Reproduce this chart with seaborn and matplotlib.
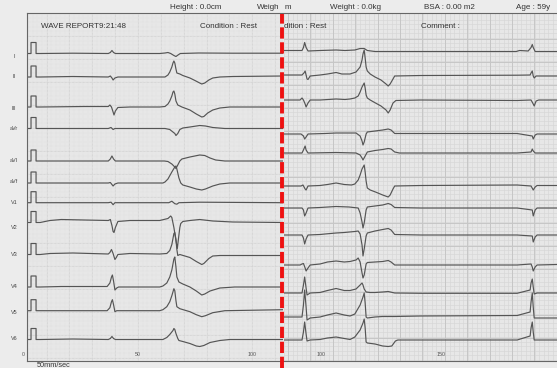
import numpy as np
import pandas as pd
import matplotlib
matplotlib.use("Agg")
import matplotlib.pyplot as plt
import seaborn as sns

sns.set_style("white")
plt.rcParams['font.family'] = ['Liberation Sans', 'DejaVu Sans']

# ---------------- data ----------------
lead_names = ["I", "II", "III", "aVr", "aVl", "aVf", "V1", "V2", "V3", "V4", "V5", "V6"]
# baseline row of each lead (vertical paper position, top = 13, bottom = 361)
left_baselines = [53.5, 77, 107, 128.5, 161, 183, 202.7, 222.5, 254.5, 287, 310.7, 339.5]
right_baselines = [51.5, 76, 100, 134, 153, 186, 208, 235, 265, 293, 317, 340]
label_rows = [56.7, 76.7, 109, 129, 161, 181.7, 202.7, 227.7, 254.7, 286.7, 312.7, 339]

# calibration pulse (left strip)
cal_t = [1.4, 3.2, 3.2, 5.4, 5.4, 7.2]
cal_amp = [0, 0, 11, 11, 0, 0]

# left strip traces: (time, amplitude)
I_left = [(7.2,0),(21.5,0.3),(37,0),(37.9,1),(38.6,3),(39.3,1),(40.1,0),(59.5,0),(61.8,0.5),(63.1,1),(64.3,0),(65.7,-2),(66.6,-3),(67.5,-1.5),(68.5,0),(76.5,0.5),(91.5,0.3),(113.5,0.3)]
II_left = [(7.2,0),(21.5,0.5),(37,0),(37.9,1),(38.6,-1),(39.1,-3),(39.9,-1),(41.2,0),(56.5,0),(61.8,0),(63.1,2),(63.9,5),(64.8,10),(65.3,14),(65.7,16),(66.1,14),(66.6,8),(67,4),(68.3,3),(69.6,1.5),(72.7,-1),(74.9,-3.5),(77,-6),(77.9,-7),(79.2,-6),(81,-3),(82.7,-1),(85.8,0),(91.5,0.5),(113.5,1)]
III_left = [(7.2,0),(26.5,0.5),(37,0.5),(37.7,2),(38.4,0),(39.1,-5),(39.5,-8),(40.1,-4),(41.2,-0.5),(46.5,0),(59.5,0),(61.8,0.5),(63.1,3),(63.9,6),(64.8,11),(65.3,15),(65.7,16),(66.1,13),(66.6,6),(67.4,2),(69.2,0),(72.7,-3),(75.5,-7),(77.9,-10),(78.8,-9.5),(80.5,-6),(82.7,-3),(85.8,-1),(90.1,0),(113.5,0)]
aVr_left = [(7.2,0),(37,0),(38.2,1),(39.1,-1),(39.9,0),(61.8,0),(63.9,-1),(66.1,-5),(66.6,-7),(67.4,-5),(68.3,-1),(69.6,0.5),(72.7,1.5),(77,3),(79.5,2.5),(82.7,1),(88,0),(113.5,0)]
aVl_left = [(7.2,0),(37,0),(37.9,2),(38.6,5),(39.3,2),(40.1,0),(61.5,0),(63.1,-0.5),(64.8,-3),(66.1,-6),(66.6,-7.5),(67.4,-4),(68.3,0),(69.2,2),(72.7,4),(77,6),(79.2,5.5),(81.5,3),(84,1),(88,0),(113.5,0)]
aVf_left = [(7.2,0),(37,0),(37.9,0.5),(39.1,-3),(39.9,-1),(41.2,0),(60.9,0),(61.8,1),(63.1,4),(64.8,11),(66.1,16),(66.6,17),(67,14),(67.9,5),(68.7,0),(69.6,-2),(72.7,-4),(75.5,-6),(77.9,-7),(79.5,-6),(82.7,-3),(85.8,-1),(90.1,0),(113.5,0)]
V1_left = [(7.2,0),(37,0),(38.2,0.5),(39.1,-2),(39.9,0),(63.5,0),(64.8,1.5),(66.1,-1),(67,-1.5),(67.9,0),(77,0.5),(113.5,0)]
V2_left = [(7.2,0),(11.5,2),(16.5,3),(26.5,2.5),(37,2),(37.9,3),(38.6,-3),(39.1,-9),(39.5,-10),(40.1,-5),(41.2,1),(46.5,2),(59.5,2),(63.1,4),(64.3,6.5),(64.8,5),(65.7,-5),(66.6,-18),(67.2,-26),(67.6,-18),(68.3,-5),(68.7,-1),(69.6,1),(72.7,2),(77,3),(82.7,1.5),(91.5,0.5),(113.5,0)]
V3_left = [(7.2,0),(11.5,1),(21.5,1.5),(37,0.5),(37.7,2),(38.4,5),(39.1,1),(39.9,-5),(40.5,-3),(41.2,0),(46.5,1),(59.5,0.5),(62.6,1),(63.9,4),(64.8,10),(65.3,16),(65.7,21),(66.1,22),(66.6,15),(67,5),(67.4,-1),(68.3,0),(72.7,-3),(75.5,-7),(77.9,-10),(78.8,-9),(81,-4),(82.7,-1.5),(85.8,-1),(113.5,-1)]
V4_left = [(7.2,0),(16.5,0.5),(36.5,0.5),(37.7,4),(38.4,10),(38.8,12),(39.3,6),(39.9,-3),(40.7,-1),(41.5,0),(59.5,0),(60.9,1),(62.6,4),(63.9,10),(64.8,17),(65.7,28),(66.1,30),(66.6,20),(67,10),(67.9,5),(69.6,3),(72.7,0),(75.5,-4),(77.9,-8),(79.2,-7),(81.5,-4),(85.8,-1),(92.3,0),(113.5,0)]
V5_left = [(7.2,0),(36.5,0),(37.7,3),(38.4,9),(38.8,11),(39.3,6),(39.9,-1),(40.7,0),(59.5,0),(60.9,1),(62.6,4),(63.9,9),(64.8,15),(65.7,22),(66.1,20),(66.6,10),(67,4),(68.3,2),(72.7,-1),(75.5,-4),(77.9,-6),(79.5,-5),(82.7,-2),(88,0),(113.5,1)]
V6_left = [(7.2,0),(21.5,0.5),(37,0),(37.9,1),(38.6,3),(39.3,1),(40.1,0),(60.9,0),(62.6,2),(63.9,5),(65.3,9),(65.7,11),(66.1,10),(66.6,6),(67.4,1),(67.9,-1),(69.6,-2),(72.7,-4),(75.5,-6.5),(77,-7),(78.8,-6),(81.5,-3),(85.8,-1),(90.1,0),(113.5,0)]

# right strip traces: (time, amplitude)
I_right = [(84.6,1),(92.1,1),(92.7,4),(93.2,9),(93.8,4),(94.6,0.5),(99.6,1),(106.3,1.5),(110,1),(114.1,1.5),(116.3,3),(118,3),(119.3,1),(122.5,0),(141.7,0),(181.3,0),(182.7,1),(186.3,0.5),(187.5,4),(188,7),(188.4,4),(189.2,0),(198.3,0)]
II_right = [(84.6,1),(92.1,1),(92.9,3),(93.4,5),(93.8,1),(94.2,-3),(94.6,-3.5),(95.5,0),(99.6,1),(102.7,2),(106.3,3.5),(108.7,2),(112.1,2),(114.6,4),(116.3,9),(117.1,16),(117.5,22),(118,26),(118.4,18),(118.8,9),(119.3,5),(120.5,2),(122.5,-1),(125,-4),(127.1,-8),(128,-10),(128.8,-8),(130,-3),(130.7,0),(141.7,0.5),(181.7,0.8),(187.1,1),(187.5,3),(188,5),(188.4,0),(188.8,-2),(189.6,0),(198.3,0)]
III_right = [(84.6,0),(91.3,0),(92.1,2),(92.7,0),(93.4,-4),(93.8,-7),(94.6,-3),(95.5,0),(99.6,0),(106.3,1),(110,0.5),(112.1,1),(114.1,2),(115.5,4),(116.3,8),(117.1,13),(118,17),(118.4,12),(118.8,5),(119.3,2),(120.5,0),(122.7,-3),(125,-6),(127.1,-10),(128,-13),(128.8,-10),(130,-3),(131.2,-0.5),(141.7,0),(181.7,-0.5),(187.5,0),(188.4,-4),(188.8,-6),(189.6,-1),(190.7,0),(198.3,0)]
aVr_right = [(84.6,0),(91.7,0),(92.7,-2),(93.2,-5),(93.8,-3),(94.6,0),(101.7,0.5),(106.3,1),(114.6,1),(116.3,-2),(117.1,-7),(117.5,-11),(118,-8),(118.8,0),(119.3,2),(122.5,3),(125.7,4),(128,5),(129.2,4),(130.7,0.5),(141.7,0.5),(181.7,0.5),(188,-2),(188.4,-5),(189.2,-1),(190,0),(198.3,0)]
aVl_right = [(84.6,0),(92.1,0),(92.7,3),(93.4,7),(93.8,3),(94.6,0),(106.3,0.5),(114.6,0),(116.3,-2),(117.1,-5),(117.5,-7),(118.4,-3),(119.3,1),(122.5,2.5),(125.7,3.5),(128,4.5),(129.2,4),(130.7,1),(132.7,0),(181.7,0),(187.5,1),(188,4),(188.4,2),(189.2,0),(198.3,0)]
aVf_right = [(84.6,0),(91.7,0),(92.5,1),(93.4,-3),(93.8,-4),(94.6,0),(99.6,0.5),(102.7,1.5),(106.3,3),(109.7,1.5),(112.7,1),(114.1,2),(115.5,6),(116.3,11),(117.1,17),(118,21),(118.4,14),(118.8,5),(119.3,-2),(120.5,-4),(122.7,-6),(125.7,-9),(128,-11),(128.8,-9),(130,-3),(130.7,0),(141.7,0.5),(181.7,1),(187.5,0),(188.4,-4),(189.2,-1),(190,0.5),(198.3,0.5)]
V1_right = [(84.6,0),(92.1,0),(92.7,-2),(93.2,-8),(93.8,-5),(94.6,0),(99.6,0.5),(106.3,1.5),(111.7,1),(115.5,0),(116.3,-5),(117.1,-14),(117.5,-20),(118,-15),(118.8,-2),(119.3,1),(122.5,2),(125.7,3),(128,4.5),(129.2,3.5),(130.7,0.5),(141.7,0),(181.7,0),(188,-2),(188.4,-8),(189.2,-2),(190,0),(198.3,0)]
V2_right = [(84.6,0),(92.1,0),(92.7,-3),(93.2,-9),(93.8,-4),(94.6,0),(99.6,0.5),(101.7,1),(106.3,2),(109.7,2.5),(114.1,3.5),(115.5,4),(116.3,1),(117.1,-10),(117.5,-21),(118,-14),(118.8,-1),(119.3,2),(122.5,4),(125.7,5.5),(128,6.5),(129.2,5),(130.7,0.5),(141.7,0),(181.7,0),(188,-1),(188.4,-7),(189.2,-2),(190,0),(198.3,0)]
V3_right = [(84.6,0),(91.3,0),(92.1,1),(92.7,1.5),(93.4,-3),(93.8,-6),(94.6,-3),(95.5,0),(99.6,1),(102.7,3),(106.3,4),(109.7,3),(112.1,3.5),(114.6,5),(115.5,7),(116.3,3),(117.1,-8),(117.5,-13),(118,-10),(118.8,1),(119.3,2.5),(122.5,3),(125.7,3.5),(128,4.5),(129.2,3),(130.7,0),(141.7,0),(181.7,0),(187.5,1),(188,-2),(188.4,-6),(189.2,-2),(190,0),(198.3,0.5)]
V4_right = [(84.6,0),(92.1,0),(92.7,8),(93.2,16),(93.8,5),(94.2,-2),(95.5,0),(99.6,0.5),(102.7,2.5),(106.3,4.5),(109.7,2.5),(112.1,2.5),(114.6,4),(116.3,8),(117.1,10),(117.5,8),(118,4),(118.8,1),(120.5,0.5),(122.5,0.5),(125.7,1),(128,1.5),(130.7,0),(141.7,-0.3),(181.7,-0.3),(187.1,3),(187.5,10),(188,14),(188.4,6),(188.8,-1),(190,0),(198.3,0)]
V5_right = [(84.6,0),(92.1,0),(92.7,12),(93.2,27),(93.8,10),(94.2,-3),(95.5,-1),(99.6,0),(102.7,2),(106.3,4),(109.7,2),(112.1,1),(114.1,3),(116.3,12),(117.5,20),(118,24),(118.4,14),(118.8,0),(119.3,-1),(122.5,0),(125.7,0.5),(130.7,0.5),(141.7,1),(181.7,1.5),(187.1,5),(187.5,15),(188,24),(188.4,10),(188.8,-1),(190,-1),(198.3,-1)]
V6_right = [(84.6,0),(92.1,0),(92.7,8),(93.2,18),(93.8,6),(94.2,-1),(95.5,0),(99.6,0.5),(102.7,2),(106.3,3),(109.7,1.5),(112.1,0.5),(114.1,3),(116.3,10),(117.5,17),(118,21),(118.4,12),(118.8,-2),(119.3,-3),(122.5,-4),(125.7,-6),(128,-6.5),(129.5,-6),(131,-1),(132,0),(141.7,0),(181.7,0),(187.1,4),(187.5,12),(188,18),(188.4,8),(188.8,0),(198.3,0)]

left_traces = [I_left, II_left, III_left, aVr_left, aVl_left, aVf_left,
               V1_left, V2_left, V3_left, V4_left, V5_left, V6_left]
right_traces = [I_right, II_right, III_right, aVr_right, aVl_right, aVf_right,
                V1_right, V2_right, V3_right, V4_right, V5_right, V6_right]

left_tick_values = [0, 50, 100]
right_tick_values = [100, 150]

# ---------------- build tables ----------------
def build(traces, baselines, with_cal):
    recs = []
    for name, base, pts in zip(lead_names, baselines, traces):
        seq = (list(zip(cal_t, cal_amp)) if with_cal else []) + pts
        for i, (t, a) in enumerate(seq):
            recs.append({"lead": name, "order": i, "t": t, "y": base - a})
    return pd.DataFrame(recs)

df_left = build(left_traces, left_baselines, True)
df_right = build(right_traces, right_baselines, False)

# ---------------- figure ----------------
W, H = 557, 368
fig = plt.figure(figsize=(W / 100, H / 100), dpi=100, facecolor='#ececec')

axL = fig.add_axes([27 / W, 7 / H, 256 / W, 348 / H])
axR = fig.add_axes([284 / W, 7 / H, 273 / W, 348 / H])

paper = '#e7e7e7'
for ax in (axL, axR):
    ax.set_facecolor(paper)
    ax.set_ylim(361, 13)
    ax.set_yticks([])

axL.set_xlim(1.44, 113.43)
axR.set_xlim(84.6, 198.3)

# paper grid
for y in np.arange(17.6, 361, 4.6):
    axL.axhline(y, color='#dadada', lw=0.35, ls=(0, (1, 1.5)), zorder=0.3)
for y in np.arange(36, 361, 23):
    axL.axhline(y, color='#cccccc', lw=0.5, ls=(0, (1, 1)), zorder=0.4)
for x in np.arange(2, 114, 2):
    axL.axvline(x, color='#dadada', lw=0.35, ls=(0, (1, 1.5)), zorder=0.3)
for x in np.arange(10, 114, 10):
    axL.axvline(x, color='#cccccc', lw=0.5, ls=(0, (1, 1)), zorder=0.4)

for y in np.arange(19.6, 361, 4.6):
    axR.axhline(y, color='#d6d6d6', lw=0.45, zorder=0.3)
for y in np.arange(38.5, 361, 23):
    axR.axhline(y, color='#c6c6c6', lw=0.7, zorder=0.4)
for x in np.arange(84.6, 199, 1.866):
    axR.axvline(x, color='#d6d6d6', lw=0.45, zorder=0.3)
for x in np.arange(86.25, 199, 9.33):
    axR.axvline(x, color='#c6c6c6', lw=0.7, zorder=0.4)

# traces
trace_col = '#555555'
sns.lineplot(data=df_left, x='t', y='y', units='lead', estimator=None, sort=False,
             color=trace_col, lw=0.85, ax=axL, legend=False)
sns.lineplot(data=df_right, x='t', y='y', units='lead', estimator=None, sort=False,
             color=trace_col, lw=0.85, ax=axR, legend=False)

for ax in (axL, axR):
    ax.set_xlabel("")
    ax.set_ylabel("")
    ax.set_ylim(361, 13)

# axes / ticks
axL.set_xticks(np.arange(10, 114, 10))
axL.set_xticks(np.arange(2, 114, 2), minor=True)
axR.set_xticks(np.arange(90, 199, 10))
axR.set_xticks(np.arange(86, 199, 2), minor=True)
for ax in (axL, axR):
    ax.tick_params(axis='x', which='both', direction='in', labelbottom=False,
                   color='#555555', width=0.6)
    ax.tick_params(axis='x', which='major', length=3.5)
    ax.tick_params(axis='x', which='minor', length=1.5)
    for s in ax.spines.values():
        s.set_color('#666666')
        s.set_linewidth(0.8)
    ax.spines['right'].set_visible(False)
axR.spines['left'].set_visible(False)

for v in left_tick_values:
    axL.text(v, 354.5, str(v), ha='center', va='center', fontsize=3.8,
             color='#555555', clip_on=False)
for v in right_tick_values:
    axR.text(v, 354.5, str(v), ha='center', va='center', fontsize=3.8,
             color='#555555', clip_on=False)

# text overlay in pixel coordinates
ovT = fig.add_axes([0, 0, 1, 1])
ovT.set_xlim(0, W)
ovT.set_ylim(H, 0)
ovT.axis('off')
ovT.patch.set_visible(False)
ovT.set_zorder(5)

txt_col = '#333333'
fs = 5.8

def put(x, y, s, ha='center', size=fs, color=txt_col):
    return ovT.text(x, y, s, ha=ha, va='center', fontsize=size, color=color)

# header of the left strip
put(196, 7.5, "Height : 0.0cm")
put(257, 7.5, "Weigh", ha='left')
put(41, 27, "WAVE REPORT9:21:48", ha='left')
put(200, 27, "Condition : Rest", ha='left')
# header of the right strip
put(284.5, 7.5, "m", ha='left')
put(356, 7.5, "Weight : 0.0kg")
put(449, 7.5, "BSA : 0.00 m2")
put(516, 7.5, "Age : 59y", ha='left')
put(284, 27, "dition : Rest", ha='left')
put(421, 27, "Comment :", ha='left')

# lead labels
for name, r in zip(lead_names, label_rows):
    put(14, r, name, size=4.0, color='#444444')
ovT.text(37, 361.6, "50mm/sec", ha='left', va='top', fontsize=5.3, color=txt_col)

# red splice line
ovT.axvline(282.3, ymin=0, ymax=(H - 14) / H, color='#ee1111', lw=2.8,
            ls=(0, (2.9, 0.95)), dash_capstyle='butt', zorder=10)

fig.savefig("out.png", dpi=100, facecolor=fig.get_facecolor())
